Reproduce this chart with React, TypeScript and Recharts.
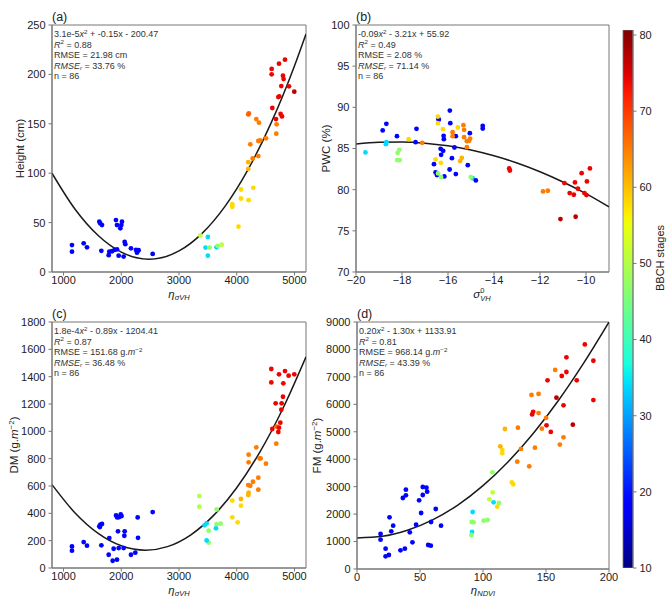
import React from 'react';
import { ComposedChart, Scatter, Line, XAxis, YAxis, ReferenceArea, BarChart, Bar } from 'recharts';

const FONT = "'Liberation Sans', Arial, sans-serif";

// BBCH colour scale (jet)
const stageMin = 10;
const stageMax = 80.66;
const stageTicks = [10, 20, 30, 40, 50, 60, 70, 80];

const etaTicks = [1000, 2000, 3000, 4000, 5000];
const heightTicks = [0, 50, 100, 150, 200, 250];
const sigmaTicks = [-20, -18, -16, -14, -12, -10];
const pwcTicks = [70, 75, 80, 85, 90, 95, 100];
const dmTicks = [0, 200, 400, 600, 800, 1000, 1200, 1400, 1600, 1800];
const ndviTicks = [0, 50, 100, 150, 200];
const fmTicks = [0, 1000, 2000, 3000, 4000, 5000, 6000, 7000, 8000, 9000];

type Pt = [number, number, number]; // x, y, BBCH stage

// (a) height vs eta_sigmaVH
const heightPts: Pt[] = [
  [1146, 27.3, 19], [1146, 20.6, 19], [1349, 29, 19], [1406, 25, 19], [1620, 50.9, 19], [1637, 49.2, 19],
  [1666, 47.5, 19], [1655, 21.4, 19], [1782, 17, 19], [1793, 20.5, 19], [1840, 21, 19], [1885, 22.3, 19],
  [1926, 22.9, 19], [1908, 52.6, 19], [1926, 47.5, 19], [2012, 50.9, 19], [2001, 47.5, 19], [1984, 44.2, 19],
  [1955, 16.5, 19], [2041, 15.6, 19], [2059, 30.4, 19], [2070, 28.2, 19], [2168, 24, 19], [2255, 22.3, 19],
  [2290, 21.6, 19], [2272, 19.6, 19], [2300, 22, 19], [2544, 18.3, 19],
  [3500, 35.5, 34], [3460, 24.7, 34], [3500, 16.5, 34], [3650, 25, 34],
  [3530, 24.7, 47], [3670, 26.5, 47], [3740, 27.7, 51], [3370, 37, 51],
  [3923, 68.6, 58], [3923, 66, 58], [4073, 83.5, 58], [4073, 74.4, 58], [4206, 72.7, 58], [4287, 85.2, 58], [4030, 46, 58],
  [4200, 104.4, 61], [4200, 111.2, 61],
  [4276, 114.9, 65], [4374, 117.3, 65], [4235, 129.2, 65], [4374, 132.6, 65], [4408, 133.3, 65], [4506, 135.3, 65],
  [4339, 154.8, 65], [4385, 151.1, 65], [4691, 149.5, 65], [4685, 140, 65],
  [4200, 159.5, 67], [4210, 160.5, 67],
  [4836, 214.9, 74], [4732, 210.9, 74], [4605, 205.5, 74], [4605, 200.1, 74], [4801, 198.7, 74], [4812, 195.3, 74],
  [4772, 188.2, 74], [4905, 187.9, 74], [4737, 177.8, 74], [4720, 177.1, 74], [4616, 166, 74], [4760, 159.9, 74],
  [4784, 157.5, 74], [4680, 154.8, 74], [4997, 182.5, 77],
];
const heightFit: [number, number][] = [
  [800, 100], [1200, 63.5], [1600, 36.9], [2000, 20.1], [2480, 13], [3000, 21.3],
  [3400, 39.1], [3800, 66.7], [4200, 104.1], [4600, 151.4], [5000, 208.6], [5200, 241],
];

// (b) PWC vs sigma0_VH
const pwcPts: Pt[] = [
  [-19.59, 84.52, 34], [-18.68, 85.77, 34], [-18.7, 85.53, 34], [-14.93, 81.4, 34],
  [-18.84, 87.19, 19], [-18.68, 88.0, 19], [-18.22, 86.5, 19], [-17.37, 87.39, 19], [-17.41, 85.77, 19],
  [-16.4, 88.48, 19], [-16.42, 88.6, 19], [-15.92, 89.61, 19], [-15.9, 88.08, 19], [-16.19, 86.54, 19],
  [-16.18, 86.13, 19], [-15.66, 86.5, 19], [-15.05, 86.86, 19], [-14.49, 87.75, 19], [-14.49, 87.43, 19],
  [-15.72, 85.12, 19], [-16.32, 84.96, 19], [-16.21, 84.72, 19], [-16.3, 84.23, 19], [-16.61, 83.1, 19],
  [-15.83, 83.83, 19], [-15.14, 82.98, 19], [-15.93, 82.45, 19], [-16.54, 82.09, 19], [-16.48, 81.77, 19],
  [-16.16, 81.61, 19], [-15.66, 81.89, 19], [-14.79, 81.12, 19],
  [-18.12, 84.84, 47], [-18.19, 84.48, 47], [-18.21, 83.59, 47], [-18.1, 83.59, 47], [-16.43, 81.97, 47],
  [-16.3, 81.53, 47], [-15.01, 81.53, 47],
  [-17.71, 86.13, 58], [-16.44, 88.88, 58], [-16.44, 88.08, 58], [-16.22, 87.35, 58], [-15.57, 87.55, 58],
  [-16.54, 83.67, 58], [-16.31, 83.26, 58],
  [-15.4, 83.87, 61], [-15.47, 83.47, 61],
  [-17.12, 85.69, 65], [-15.33, 87.83, 65], [-15.3, 87.27, 65], [-15.8, 86.98, 65], [-15.8, 86.5, 65],
  [-15.04, 86.21, 65], [-15.08, 85.93, 65], [-15.3, 86.38, 65], [-15.18, 85.89, 65], [-15.18, 85.16, 65],
  [-11.87, 79.79, 65], [-11.66, 79.87, 65],
  [-13.34, 82.58, 74], [-13.31, 82.33, 74], [-10.94, 80.8, 74], [-10.48, 80.88, 74], [-10.19, 82.0, 74],
  [-9.83, 82.58, 74], [-9.96, 81.0, 74], [-10.35, 80.11, 74], [-10.71, 79.58, 74], [-10.53, 79.38, 74],
  [-10.07, 79.58, 74], [-9.98, 79.34, 74], [-11.11, 76.43, 77], [-10.45, 76.71, 77],
];
const pwcFit: [number, number][] = [
  [-20, 85.54], [-19, 85.75], [-18, 85.79], [-17, 85.65], [-16, 85.32], [-15, 84.81],
  [-14, 84.11], [-13, 83.24], [-12, 82.18], [-11, 80.93], [-10, 79.51], [-9, 77.9],
];

// (c) DM vs eta_sigmaVH
const dmPts: Pt[] = [
  [1146, 158, 19], [1146, 127, 19], [1349, 190, 19], [1406, 163, 19], [1620, 305, 19], [1637, 317, 19],
  [1666, 322, 19], [1630, 300, 19], [1655, 166, 19], [1793, 219, 19], [1782, 97, 19], [1868, 141, 19],
  [1851, 53, 19], [1926, 61, 19], [1910, 385, 19], [1930, 370, 19], [1960, 372, 19], [1990, 392, 19],
  [2005, 380, 19], [1943, 268, 19], [1955, 146, 19], [2041, 146, 19], [2059, 268, 19], [2053, 236, 19],
  [2168, 97, 19], [2243, 112, 19], [2284, 370, 19], [2290, 221, 19], [2544, 409, 19],
  [3352, 526, 50], [3352, 448, 50],
  [3652, 428, 47], [3652, 321, 47], [3721, 324, 47], [3513, 273, 47], [3513, 185, 47],
  [3479, 326, 34], [3444, 312, 34], [3640, 290, 34], [3479, 202, 34],
  [3923, 493, 58], [3923, 371, 58], [4016, 334, 58], [4073, 456, 58],
  [4073, 505, 61], [4206, 551, 61], [4200, 534, 61],
  [4685, 910, 65], [4339, 883, 65], [4206, 829, 65], [4206, 773, 65], [4397, 802, 65], [4414, 802, 65],
  [4506, 763, 65], [4374, 661, 65], [4281, 631, 65], [4235, 602, 65], [4200, 607, 65], [4374, 573, 65],
  [4691, 1034, 67],
  [4599, 1456, 74], [4732, 1417, 74], [4836, 1441, 74], [4899, 1407, 74], [4997, 1417, 74], [4599, 1358, 74],
  [4807, 1351, 74], [4801, 1253, 74], [4674, 1205, 74], [4778, 1205, 74], [4772, 1158, 74], [4755, 1063, 74],
  [4616, 1017, 74], [4732, 1027, 74], [4720, 995, 74],
];
const dmFit: [number, number][] = [
  [800, 610], [1200, 402.5], [1600, 253.1], [2000, 162.3], [2420, 130], [2800, 156.4],
  [3200, 241.4], [3600, 384.9], [4000, 587.1], [4400, 847.8], [4800, 1167.1], [5200, 1545],
];

// (d) FM vs eta_NDVI
const fmPts: Pt[] = [
  [18.7, 1275, 19], [18.7, 1069, 19], [22.7, 741, 19], [22.7, 462, 19], [25.3, 510, 19], [25.8, 1882, 19],
  [28.7, 1578, 19], [27.2, 1372, 19], [34.5, 680, 19], [38.0, 741, 19], [36.4, 2587, 19], [38.8, 2684, 19],
  [38.8, 2890, 19], [41.9, 1336, 19], [44.0, 972, 19], [46.9, 1615, 19], [49.3, 2502, 19], [50.9, 2041, 19],
  [52.2, 2988, 19], [52.2, 2696, 19], [55.1, 2963, 19], [55.7, 2818, 19], [56.5, 875, 19], [58.6, 851, 19],
  [58.8, 1712, 19], [62.5, 2187, 19], [66.7, 1578, 19],
  [91.8, 2077, 34], [91.3, 1348, 34], [108.4, 2430, 34],
  [91.0, 1713, 47], [92.6, 1700, 47], [90.8, 1239, 47], [100.5, 1761, 47], [103.7, 1785, 47], [107.4, 3523, 47],
  [112.6, 2405, 47],
  [107.7, 2794, 51], [105.0, 2539, 51],
  [111.3, 2272, 58], [115.3, 4337, 58], [115.3, 4215, 58], [122.9, 3159, 58], [124.0, 3086, 58],
  [113.7, 4471, 61], [117.4, 5102, 61],
  [127.7, 5151, 65], [127.2, 3912, 65], [130.1, 4374, 65], [136.7, 3742, 65], [138.5, 6344, 65], [144.1, 6380, 65],
  [144.1, 5680, 65], [141.2, 4422, 65], [146.7, 5114, 65], [150.1, 5503, 65], [157.3, 7252, 65], [161.0, 4532, 65],
  [163.9, 4799, 65],
  [139.0, 5631, 74], [139.8, 5728, 74], [150.4, 5236, 74], [153.8, 4993, 74], [151.2, 6875, 74], [162.5, 7033, 74],
  [166.2, 7179, 74], [166.2, 7714, 74], [163.9, 5964, 74], [174.4, 6875, 74], [180.8, 8184, 74], [187.6, 7588, 74],
  [187.6, 6155, 74], [158.3, 6243, 77], [171.3, 5260, 77],
];
const fmFit: [number, number][] = [
  [0, 1130], [20, 1190], [40, 1410], [60, 1790], [80, 2330], [100, 3040],
  [120, 3910], [140, 4950], [160, 6150], [180, 7510], [200, 9000],
];

const notes = [
  { x: 54, y: 25, coef: '3.1e-5', rest: ' + -0.15x - 200.47', r2: '0.88', rmse: '21.98', unit: 'cm', rmser: '33.76' },
  { x: 358, y: 25, coef: '-0.09', rest: ' - 3.21x + 55.92', r2: '0.49', rmse: '2.08', unit: '%', rmser: '71.14' },
  { x: 54, y: 322, coef: '1.8e-4', rest: ' - 0.89x - 1204.41', r2: '0.87', rmse: '151.68', unit: 'gm', rmser: '36.48' },
  { x: 359, y: 322, coef: '0.20', rest: ' - 1.30x + 1133.91', r2: '0.81', rmse: '968.14', unit: 'gm', rmser: '43.39' },
];

// matplotlib jet
const jetR = [[0, 0], [0.35, 0], [0.66, 1], [0.89, 1], [1, 0.5]];
const jetG = [[0, 0], [0.125, 0], [0.375, 1], [0.64, 1], [0.91, 0], [1, 0]];
const jetB = [[0, 0.5], [0.11, 1], [0.34, 1], [0.65, 0], [1, 0]];
function seg(s: number[][], t: number) {
  for (let i = 1; i < s.length; i++) {
    if (t <= s[i][0]) {
      const [x0, y0] = s[i - 1];
      const [x1, y1] = s[i];
      return y0 + ((y1 - y0) * (t - x0)) / (x1 - x0);
    }
  }
  return s[s.length - 1][1];
}
function jetT(t: number) {
  const c = (v: number) => Math.round(v * 255);
  return `rgb(${c(seg(jetR, t))},${c(seg(jetG, t))},${c(seg(jetB, t))})`;
}
function jet(stage: number) {
  const t = Math.max(0, Math.min(1, (stage - stageMin) / (stageMax - stageMin)));
  return jetT(t);
}

const dot = (p: any) => <circle cx={p.cx} cy={p.cy} r={2.4} fill={jet(p.payload.s)} />;
const minus = (v: number) => String(v).replace('-', '\u2212');
const tickStyle = { fill: '#222', fontSize: 11, fontFamily: FONT };

function Panel({ left, top, margin, pts, fit, xDomain, yDomain, xTicks, yTicks, xFmt }: any) {
  const data = pts.map(([x, y, s]: Pt) => ({ x, y, s }));
  const curve = fit.map(([x, y]: [number, number]) => ({ x, y }));
  return (
    <div style={{ position: 'absolute', left, top }}>
      <ComposedChart width={310} height={300} margin={margin}>
        <XAxis type="number" dataKey="x" domain={xDomain} ticks={xTicks} allowDataOverflow interval={0}
          height={20} stroke="#777" tickSize={3.5} tickMargin={1} tick={tickStyle} tickFormatter={xFmt} />
        <YAxis type="number" dataKey="y" domain={yDomain} ticks={yTicks} allowDataOverflow interval={0}
          width={40} stroke="#777" tickSize={3.5} tickMargin={3} tick={tickStyle} />
        <ReferenceArea x1={xDomain[0]} x2={xDomain[1]} y1={yDomain[0]} y2={yDomain[1]}
          fill="none" stroke="#777" strokeOpacity={1} />
        <Scatter data={data} shape={dot} isAnimationActive={false} />
        <Line data={curve} dataKey="y" type="monotone" stroke="#1a1a1a" strokeWidth={1.5}
          dot={false} activeDot={false} isAnimationActive={false} />
      </ComposedChart>
    </div>
  );
}

function Note({ n }: any) {
  const unit = n.unit === 'gm'
    ? <>g.<tspan fontStyle="italic">m</tspan><tspan dy={-3.2} fontSize={6.2}>{'\u22122'}</tspan></>
    : n.unit;
  return (
    <g fontSize={9} fill="#333">
      <text x={n.x} y={n.y + 12}>{n.coef}<tspan fontStyle="italic">x</tspan><tspan dy={-3.2} fontSize={6.2}>2</tspan><tspan dy={3.2}>{n.rest}</tspan></text>
      <text x={n.x} y={n.y + 22.5}><tspan fontStyle="italic">R</tspan><tspan dy={-3.2} fontSize={6.2}>2</tspan><tspan dy={3.2}>{' = ' + n.r2}</tspan></text>
      <text x={n.x} y={n.y + 33}>{'RMSE = ' + n.rmse + ' '}{unit}</text>
      <text x={n.x} y={n.y + 43.5}><tspan fontStyle="italic">RMSE</tspan><tspan dy={1.8} fontSize={6.2} fontStyle="italic">r</tspan><tspan dy={-1.8}>{' = ' + n.rmser + ' %'}</tspan></text>
      <text x={n.x} y={n.y + 54}>n = 86</text>
    </g>
  );
}

const gradStops = Array.from({ length: 51 }, (_, i) => i / 50);

export default function App() {
  return (
    <div style={{ position: 'absolute', left: 0, top: 0, width: 669, height: 597, background: '#fff', fontFamily: FONT }}>
      <Panel left={0} top={0} margin={{ top: 25, right: 4, bottom: 8, left: 12 }} pts={heightPts} fit={heightFit}
        xDomain={[800, 5200]} yDomain={[0, 250]} xTicks={etaTicks} yTicks={heightTicks} />
      <Panel left={310} top={0} margin={{ top: 25, right: 11, bottom: 8, left: 6 }} pts={pwcPts} fit={pwcFit}
        xDomain={[-20, -9]} yDomain={[70, 100]} xTicks={sigmaTicks} yTicks={pwcTicks} xFmt={minus} />
      <Panel left={0} top={297} margin={{ top: 25, right: 4, bottom: 9, left: 12 }} pts={dmPts} fit={dmFit}
        xDomain={[800, 5200]} yDomain={[0, 1800]} xTicks={etaTicks} yTicks={dmTicks} />
      <Panel left={310} top={297} margin={{ top: 25, right: 11, bottom: 8, left: 7 }} pts={fmPts} fit={fmFit}
        xDomain={[0, 200]} yDomain={[0, 9000]} xTicks={ndviTicks} yTicks={fmTicks} />

      <div style={{ position: 'absolute', left: 610, top: 0 }}>
        <BarChart width={59} height={597} data={[{ name: 'BBCH', v: stageMax }]}
          margin={{ top: 30, right: 6, bottom: 29, left: 13 }} barCategoryGap={0}>
          <defs>
            <linearGradient id="jetGrad" x1="0" y1="1" x2="0" y2="0">
              {gradStops.map((t) => <stop key={t} offset={t} stopColor={jetT(t)} />)}
            </linearGradient>
          </defs>
          <XAxis dataKey="name" hide height={0} />
          <YAxis orientation="right" type="number" domain={[stageMin, stageMax]} ticks={stageTicks} interval={0}
            allowDataOverflow width={30} stroke="#777" tickSize={3.5} tickMargin={3} tick={tickStyle} />
          <Bar dataKey="v" fill="url(#jetGrad)" stroke="#777" strokeWidth={0.8} isAnimationActive={false} />
        </BarChart>
      </div>

      <svg width={669} height={597} style={{ position: 'absolute', left: 0, top: 0, pointerEvents: 'none' }}
        fontFamily={FONT} fill="#222">
        <g fontSize={12.5}>
          <text x={52} y={21}>(a)</text>
          <text x={356} y={21}>(b)</text>
          <text x={52} y={318}>(c)</text>
          <text x={357} y={318}>(d)</text>
        </g>
        {notes.map((n, i) => <Note key={i} n={n} />)}
        <g fontSize={11.5} textAnchor="middle">
          <text transform="translate(24,148.5) rotate(-90)">Height (cm)</text>
          <text transform="translate(330,148.5) rotate(-90)">PWC (%)</text>
          <text transform="translate(18,445) rotate(-90)">DM (g.<tspan fontStyle="italic">m</tspan><tspan dy={-4.5} fontSize={8}>{'\u22122'}</tspan><tspan dy={4.5}>)</tspan></text>
          <text transform="translate(321,445.5) rotate(-90)">FM (g.<tspan fontStyle="italic">m</tspan><tspan dy={-4.5} fontSize={8}>{'\u22122'}</tspan><tspan dy={4.5}>)</tspan></text>
          <text fontSize={11} transform="translate(664,258) rotate(-90)">BBCH stages</text>
        </g>
        <g fontSize={11.5} fontStyle="italic" textAnchor="middle">
          <text x={179} y={297.5}>η<tspan dy={2.5} fontSize={7.5}>σVH</tspan></text>
          <text x={482} y={297.5}>σ<tspan dy={-5} fontSize={7.5} fontStyle="normal">0</tspan><tspan dx={-4.2} dy={8} fontSize={7.5}>VH</tspan></text>
          <text x={179} y={593.5}>η<tspan dy={2.5} fontSize={7.5}>σVH</tspan></text>
          <text x={483} y={593.5}>η<tspan dy={2.5} fontSize={7.5}>NDVI</tspan></text>
        </g>
      </svg>
    </div>
  );
}
